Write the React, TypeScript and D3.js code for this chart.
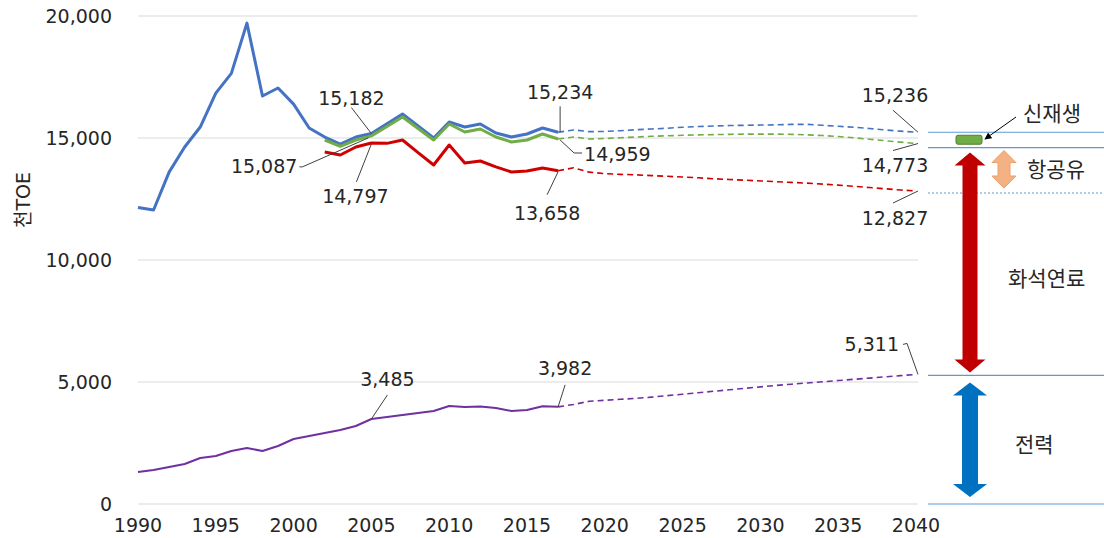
import React from 'react';
import * as d3 from 'd3';

// ---------- DATA ----------
const histYears = [1990, 1991, 1992, 1993, 1994, 1995, 1996, 1997, 1998, 1999, 2000, 2001, 2002, 2003, 2004, 2005, 2006, 2007, 2008, 2009, 2010, 2011, 2012, 2013, 2014, 2015, 2016, 2017];
const projYears = [2017, 2018, 2019, 2020, 2021, 2022, 2023, 2024, 2025, 2026, 2027, 2028, 2029, 2030, 2031, 2032, 2033, 2034, 2035, 2036, 2037, 2038, 2039, 2040];

const totalHist = [12150, 12050, 13600, 14630, 15450, 16840, 17650, 19710, 16720, 17050, 16390, 15410, 15040, 14750, 15040, 15182, 15580, 15984, 15490, 15000, 15656, 15451, 15574, 15205, 15040, 15164, 15410, 15234];
const totalProj = [15234, 15330, 15260, 15270, 15300, 15340, 15370, 15400, 15440, 15470, 15490, 15510, 15520, 15530, 15540, 15560, 15560, 15520, 15480, 15440, 15390, 15330, 15280, 15236];

const greenStart = 2002;
const greenHist = [14918, 14660, 14918, 15087, 15470, 15860, 15390, 14918, 15574, 15246, 15369, 15041, 14836, 14918, 15164, 14959];
const greenProj = [14959, 15040, 14960, 14980, 15010, 15040, 15070, 15090, 15110, 15130, 15140, 15150, 15160, 15160, 15160, 15150, 15130, 15100, 15060, 15010, 14950, 14890, 14830, 14773];

const redStart = 2002;
const redHist = [14426, 14303, 14631, 14797, 14780, 14918, 14400, 13893, 14713, 13975, 14057, 13815, 13606, 13648, 13770, 13658];
const redProj = [13658, 13780, 13600, 13540, 13510, 13490, 13460, 13430, 13400, 13370, 13330, 13300, 13270, 13240, 13210, 13180, 13150, 13110, 13070, 13020, 12970, 12920, 12870, 12827];

const purpleHist = [1310, 1393, 1516, 1639, 1885, 1967, 2172, 2295, 2172, 2377, 2664, 2787, 2910, 3033, 3197, 3485, 3566, 3648, 3730, 3811, 4016, 3975, 4000, 3934, 3811, 3852, 4010, 3982];
const purpleProj = [3982, 4080, 4210, 4250, 4290, 4330, 4380, 4440, 4500, 4560, 4620, 4680, 4740, 4800, 4860, 4910, 4960, 5010, 5060, 5110, 5160, 5210, 5260, 5311];

const yTicks = [0, 5000, 10000, 15000, 20000];
const xTicks = [1990, 1995, 2000, 2005, 2010, 2015, 2020, 2025, 2030, 2035, 2040];
const yTitle = '천TOE';
const sideLabels = { renew: '신재생', jet: '항공유', fossil: '화석연료', power: '전력' };

// ---------- STYLE ----------
const C = {
  blue: '#4472C4',
  green: '#70AD47',
  red: '#D00000',
  purple: '#7030A0',
  grid: '#D9D9D9',
  text: '#262626',
  leader: '#404040',
  sideLine: '#5B9BD5',
};
const FONT = '"DejaVu Sans", "Noto Sans CJK KR", sans-serif';

const W = 1104;
const H = 538;

const x = d3.scaleLinear().domain([1990, 2040]).range([138, 916]);
const y = d3.scaleLinear().domain([0, 20000]).range([504, 16]);

type P = [number, number];
const zip = (yrs: number[], vals: number[]): P[] => vals.map((v, i) => [yrs[i], v]);
const fromStart = (start: number, vals: number[]): P[] => vals.map((v, i) => [start + i, v]);
const lineGen = d3.line<P>().x(d => x(d[0])).y(d => y(d[1]));

function vArrow(cx: number, y1: number, y2: number, sw: number, hw: number, hh: number) {
  const s = sw / 2, h = hw / 2;
  const pts: P[] = [
    [cx, y1], [cx + h, y1 + hh], [cx + s, y1 + hh],
    [cx + s, y2 - hh], [cx + h, y2 - hh], [cx, y2], [cx - h, y2 - hh], [cx - s, y2 - hh],
    [cx - s, y1 + hh], [cx - h, y1 + hh],
  ];
  return 'M' + pts.map(p => p.join(',')).join('L') + 'Z';
}

export default function App() {
  const series = [
    { hist: zip(histYears, totalHist), proj: zip(projYears, totalProj), color: C.blue, w: 3 },
    { hist: fromStart(greenStart, greenHist), proj: zip(projYears, greenProj), color: C.green, w: 3 },
    { hist: fromStart(redStart, redHist), proj: zip(projYears, redProj), color: C.red, w: 3 },
    { hist: zip(histYears, purpleHist), proj: zip(projYears, purpleProj), color: C.purple, w: 2 },
  ];

  const pt = (yr: number, v: number): P => [x(yr), y(v)];

  const p2005b = pt(2005, 15182);
  const p2005g = pt(2005, 15087);
  const p2005r = pt(2005, 14797);
  const p2017b = pt(2017, 15234);
  const p2017g = pt(2017, 14959);
  const p2017r = pt(2017, 13658);
  const p2040b = pt(2040, 15236);
  const p2040g = pt(2040, 14773);
  const p2040r = pt(2040, 12827);
  const p2040p = pt(2040, 5311);
  const p2005p = pt(2005, 3485);
  const p2017p = pt(2017, 3982);

  const fs = 19;
  const textProps = { fontFamily: FONT, fontSize: fs, fill: C.text };
  const korProps = { fontFamily: FONT, fontSize: 21, fill: C.text };

  const lineX1 = 928;
  const sideLines = [
    { v: 15236, dy: 0, dash: undefined },
    { v: 14773, dy: 4, dash: undefined },
    { v: 12827, dy: 2, dash: '2,2' },
    { v: 5311, dy: 1, dash: undefined },
    { v: 0, dy: 0, dash: undefined },
  ];

  const arrowX = 970;

  return (
    <div style={{ position: 'absolute', left: 0, top: 0 }}>
      <svg width={W} height={H} viewBox={`0 0 ${W} ${H}`} style={{ display: 'block', background: '#fff' }}>
        <defs>
          <marker id="ah" viewBox="0 0 10 10" refX="9" refY="5" markerWidth="7" markerHeight="7" orient="auto">
            <path d="M0,0L10,5L0,10Z" fill="#000" />
          </marker>
        </defs>
        {yTicks.map(t => (
          <line key={t} x1={138} x2={918} y1={y(t)} y2={y(t)} stroke={C.grid} strokeWidth={1} />
        ))}
        {yTicks.map(t => (
          <text key={'yl' + t} x={112} y={y(t)} textAnchor="end" dominantBaseline="central" {...textProps}>
            {d3.format(',')(t)}
          </text>
        ))}
        {xTicks.map(t => (
          <text key={'xl' + t} x={x(t)} y={525} textAnchor="middle" dominantBaseline="central" {...textProps}>
            {t}
          </text>
        ))}
        <text transform="translate(23,200) rotate(-90)" textAnchor="middle" dominantBaseline="central" {...textProps} fontSize={19}>
          {yTitle}
        </text>

        {series.map((s, i) => (
          <g key={i}>
            <path d={lineGen(s.proj) || ''} fill="none" stroke={s.color} strokeWidth={1.6} strokeDasharray="6,4" />
            <path d={lineGen(s.hist) || ''} fill="none" stroke={s.color} strokeWidth={s.w} strokeLinejoin="round" />
          </g>
        ))}

        <g stroke={C.leader} strokeWidth={1} fill="none">
          <line x1={p2005b[0] - 20} y1={p2005b[1] - 26} x2={p2005b[0]} y2={p2005b[1]} />
          <polyline points={`${p2005g[0] - 72},${p2005g[1] + 31} ${p2005g[0] - 69},${p2005g[1] + 31} ${p2005g[0] - 3},${p2005g[1] + 2}`} />
          <line x1={p2005r[0] - 15} y1={p2005r[1] + 39} x2={p2005r[0]} y2={p2005r[1] + 1} />
          <line x1={p2017b[0] + 2} y1={p2017b[1] - 26} x2={p2017b[0] + 2} y2={p2017b[1]} />
          <polyline points={`${p2017g[0] + 2},${p2017g[1] + 1} ${p2017g[0] + 16},${p2017g[1] + 14} ${p2017g[0] + 24},${p2017g[1] + 14}`} />
          <line x1={p2017r[0] - 11} y1={p2017r[1] + 24} x2={p2017r[0]} y2={p2017r[1] + 1} />
          <line x1={p2040b[0] - 23} y1={p2040b[1] - 22} x2={p2040b[0] + 2} y2={p2040b[1]} />
          <line x1={p2040g[0] - 23} y1={p2040g[1] + 7} x2={p2040g[0] + 2} y2={p2040g[1]} />
          <line x1={p2040r[0] - 23} y1={p2040r[1] + 12} x2={p2040r[0] + 2} y2={p2040r[1]} />
          <polyline points={`${p2040p[0] - 13},${p2040p[1] - 30} ${p2040p[0] - 9},${p2040p[1] - 31} ${p2040p[0] + 2},${p2040p[1]}`} />
          <line x1={p2005p[0] + 16} y1={p2005p[1] - 24} x2={p2005p[0]} y2={p2005p[1]} />
          <line x1={p2017p[0] + 7} y1={p2017p[1] - 22} x2={p2017p[0]} y2={p2017p[1]} />
        </g>

        <text x={p2005b[0] - 20} y={p2005b[1] - 36} textAnchor="middle" dominantBaseline="central" {...textProps}>15,182</text>
        <text x={p2005g[0] - 74} y={p2005g[1] + 30} textAnchor="end" dominantBaseline="central" {...textProps}>15,087</text>
        <text x={p2005r[0] - 16} y={p2005r[1] + 53} textAnchor="middle" dominantBaseline="central" {...textProps}>14,797</text>
        <text x={p2017b[0] + 2} y={p2017b[1] - 40} textAnchor="middle" dominantBaseline="central" {...textProps}>15,234</text>
        <text x={p2017g[0] + 26} y={p2017g[1] + 15} textAnchor="start" dominantBaseline="central" {...textProps}>14,959</text>
        <text x={p2017r[0] - 11} y={p2017r[1] + 42} textAnchor="middle" dominantBaseline="central" {...textProps}>13,658</text>
        <text x={p2040b[0] - 21} y={p2040b[1] - 37} textAnchor="middle" dominantBaseline="central" {...textProps}>15,236</text>
        <text x={p2040g[0] - 21} y={p2040g[1] + 21} textAnchor="middle" dominantBaseline="central" {...textProps}>14,773</text>
        <text x={p2040r[0] - 21} y={p2040r[1] + 27} textAnchor="middle" dominantBaseline="central" {...textProps}>12,827</text>
        <text x={p2040p[0] - 17} y={p2040p[1] - 30} textAnchor="end" dominantBaseline="central" {...textProps}>5,311</text>
        <text x={p2005p[0] + 16} y={p2005p[1] - 40} textAnchor="middle" dominantBaseline="central" {...textProps}>3,485</text>
        <text x={p2017p[0] + 7} y={p2017p[1] - 39} textAnchor="middle" dominantBaseline="central" {...textProps}>3,982</text>

        {sideLines.map((l, i) => (
          <line key={'sl' + i} x1={lineX1} x2={W} y1={y(l.v) + l.dy} y2={y(l.v) + l.dy} stroke={C.sideLine} strokeWidth={1.2} strokeDasharray={l.dash} />
        ))}

        <rect x={956} y={y(15236) + 3} width={26} height={9} rx={2} fill={C.green} stroke="#507E32" strokeWidth={1} />
        <line x1={1016} y1={117} x2={985} y2={139} stroke="#000" strokeWidth={1} markerEnd="url(#ah)" />
        <text x={1023} y={114} textAnchor="start" dominantBaseline="central" {...korProps}>{sideLabels.renew}</text>

        <path d={vArrow(1004, y(14773) + 7, y(12827) - 3, 12, 24, 12)} fill="#F4B183" stroke="#E9A06E" strokeWidth={1} />
        <text x={1027} y={170} textAnchor="start" dominantBaseline="central" {...korProps}>{sideLabels.jet}</text>

        <path d={vArrow(arrowX, y(14773) + 9, y(5311) - 2, 15, 31, 13)} fill="#C00000" />
        <text x={1008} y={279} textAnchor="start" dominantBaseline="central" {...korProps}>{sideLabels.fossil}</text>

        <path d={vArrow(arrowX, y(5311) + 8, y(0) - 7, 16, 34, 13)} fill="#0070C0" />
        <text x={1015} y={445} textAnchor="start" dominantBaseline="central" {...korProps}>{sideLabels.power}</text>
      </svg>
    </div>
  );
}
